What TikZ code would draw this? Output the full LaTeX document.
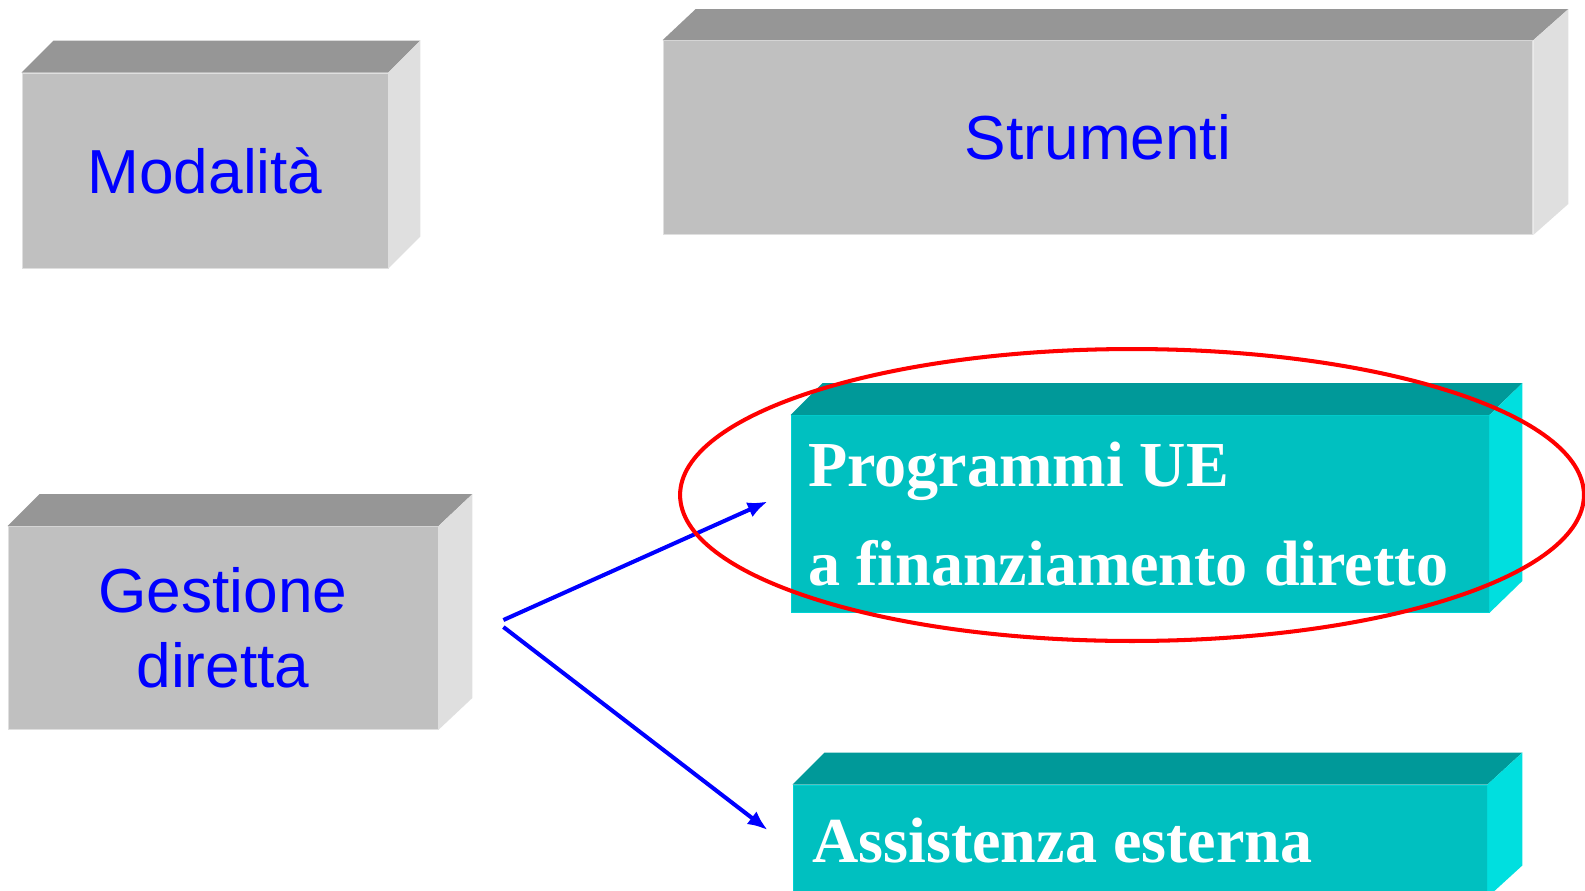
\documentclass[tikz,border=0pt]{standalone}
\usepackage{fontspec}
\setmainfont{Liberation Serif}
\setsansfont{Liberation Sans}
\usetikzlibrary{arrows.meta}
\definecolor{greyfront}{HTML}{C0C0C0}
\definecolor{greytop}{HTML}{969696}
\definecolor{greyside}{HTML}{DFDFDF}
\definecolor{tealfront}{HTML}{00C0C0}
\definecolor{tealtop}{HTML}{009999}
\definecolor{tealside}{HTML}{00DFDF}

\begin{document}
\begin{tikzpicture}[x=0.02cm,y=-0.02cm,
	greybox/.style={fill=greyfront,draw=greyside,line width=0.5pt,inner sep=0pt,text=blue,
		font=\sffamily\fontsize{35.4pt}{42.5pt}\selectfont,align=center},
	tealbox/.style={fill=tealfront,draw=tealside!60!tealfront,line width=0.5pt,inner ysep=0pt,text=white,
		font=\bfseries\fontsize{36.5pt}{56.7pt}\selectfont,align=flush left},
	link/.style={draw=blue,line width=2.3pt,-{Latex[length=0.4cm,width=0.32cm]}},
	halo/.style={draw=red,line width=2.3pt}]
	\useasboundingbox (0,0) rectangle (1585,890);
	% front faces
	\node[greybox,minimum width=7.32cm,minimum height=3.9cm] (modalita) at (205,170.5) {Modalità};
	\node[greybox,minimum width=17.4cm,minimum height=3.88cm] (strumenti) at (1098,137.5) {Strumenti};
	\node[greybox,minimum width=8.6cm,minimum height=4.06cm] (gestione) at (223,628) {Gestione\\diretta};
	\node[tealbox,inner xsep=0.34cm,text width=13.28cm,minimum height=3.94cm] (programmi) at (1140,514) {Programmi UE\\a finanziamento diretto};
	\node[tealbox,inner xsep=0.38cm,text width=13.12cm,minimum height=2.24cm] (assistenza) at (1140,841) {Assistenza esterna};
	% top and side faces
	\fill[greytop] (modalita.north west) -- ++(32,-32) -- ([shift={(32,-32)}]modalita.north east) -- (modalita.north east) -- cycle;
	\fill[greyside] (modalita.north east) -- ++(32,-32) -- ([shift={(32,-32)}]modalita.south east) -- (modalita.south east) -- cycle;
	\fill[greytop] (strumenti.north west) -- ++(33,-31) -- ([shift={(35,-31)}]strumenti.north east) -- (strumenti.north east) -- cycle;
	\fill[greyside] (strumenti.north east) -- ++(35,-31) -- ([shift={(35,-31)}]strumenti.south east) -- (strumenti.south east) -- cycle;
	\fill[greytop] (gestione.north west) -- ++(32,-32) -- ([shift={(34,-32)}]gestione.north east) -- (gestione.north east) -- cycle;
	\fill[greyside] (gestione.north east) -- ++(34,-32) -- ([shift={(34,-32)}]gestione.south east) -- (gestione.south east) -- cycle;
	\fill[tealtop] (programmi.north west) -- ++(32,-32) -- ([shift={(33,-32)}]programmi.north east) -- (programmi.north east) -- cycle;
	\fill[tealside] (programmi.north east) -- ++(33,-32) -- ([shift={(33,-32)}]programmi.south east) -- (programmi.south east) -- cycle;
	\fill[tealtop] (assistenza.north west) -- ++(32,-32) -- ([shift={(35,-32)}]assistenza.north east) -- (assistenza.north east) -- cycle;
	\fill[tealside] (assistenza.north east) -- ++(35,-32) -- ([shift={(35,-32)}]assistenza.south east) -- (assistenza.south east) -- cycle;
	% arrows
	\draw[link] ([shift={(65,-8)}]gestione.east) -- ([shift={(-23,-12.5)}]programmi.west);
	\draw[link] ([shift={(65,-1)}]gestione.east) -- ([shift={(-25,-11)}]assistenza.west);
	% highlight
	\draw[halo] ([shift={(-8,-19)}]programmi.center) ellipse [x radius=9.04cm, y radius=2.92cm];
\end{tikzpicture}
\end{document}
